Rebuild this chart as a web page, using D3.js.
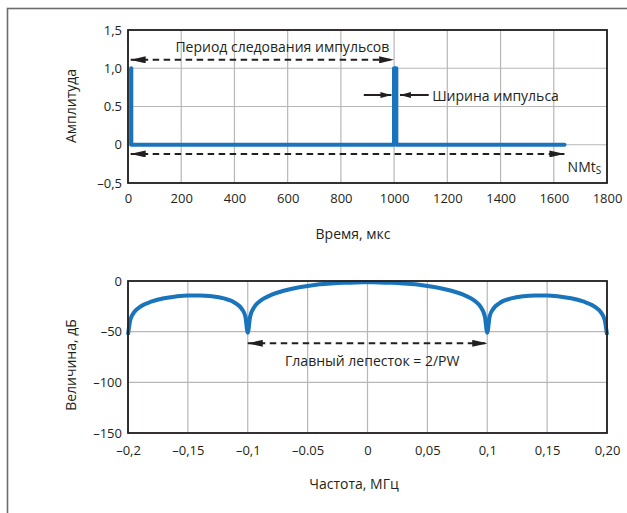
<!DOCTYPE html>
<html>
<head>
<meta charset="utf-8">
<script src="https://cdn.jsdelivr.net/npm/d3@7"></script>
<style>
  body { margin: 0; background: #fff; }
  text { font-family: "Open Sans", sans-serif; fill: #231f20; }
</style>
</head>
<body>
<svg id="chart" width="627" height="513"></svg>
<script>
// top panel: pulse train
const timeTicks = [0, 200, 400, 600, 800, 1000, 1200, 1400, 1600, 1800]
const timeTickLabels = ["0", "200", "400", "600", "800", "1000", "1200", "1400", "1600", "1800"]
const ampTicks = [-0.5, 0, 0.5, 1.0, 1.5]
const ampTickLabels = ["\u20130,5", "0", "0.5", "1,0", "1,5"]
const pulseTime = [12, 12, 1000, 1000, 1008, 1008, 1640]
const pulseAmp = [1, 0, 0, 1, 1, 0, 0]

// bottom panel: spectrum
const freqTicks = [-0.2, -0.15, -0.1, -0.05, 0, 0.05, 0.1, 0.15, 0.2]
const freqTickLabels = ["\u20130,2", "\u20130,15", "\u20130,1", "\u20130.05", "0", "0,05", "0,1", "0,15", "0,20"]
const dbTicks = [-150, -100, -50, 0]
const dbTickLabels = ["\u2013150", "\u2013100", "\u201350", "0"]
const specFreq = [-0.2, -0.198, -0.195, -0.19, -0.18, -0.17, -0.16, -0.15, -0.14, -0.13, -0.12, -0.11, -0.105, -0.102, -0.1,
  -0.098, -0.095, -0.09, -0.085, -0.08, -0.07, -0.06, -0.05, -0.04, -0.03, -0.02, -0.01, 0,
  0.01, 0.02, 0.03, 0.04, 0.05, 0.06, 0.07, 0.08, 0.085, 0.09, 0.095, 0.098,
  0.1, 0.102, 0.105, 0.11, 0.12, 0.13, 0.14, 0.15, 0.16, 0.17, 0.18, 0.19, 0.195, 0.198, 0.2]
const specDb = [-53, -38, -31, -25.5, -20.2, -17, -15.2, -14.2, -14.2, -15, -17.2, -22, -27.5, -35, -51,
  -35, -26.5, -20, -16.2, -13.5, -9.6, -6.9, -4.9, -3.3, -2.4, -1.8, -1.4, -1.3,
  -1.4, -1.8, -2.4, -3.3, -4.9, -6.9, -9.6, -13.5, -16.2, -20, -26.5, -35,
  -51, -35, -27.5, -22, -17.2, -15, -14.2, -14.2, -15.2, -17, -20.2, -25.5, -31, -38, -53]

const blue = "#1a74bb"
const gridColor = "#b7b7b7"
const ink = "#231f20"

const svg = d3.select("#chart")

const defs = svg.append("defs")
defs.append("marker")
  .attr("id", "head")
  .attr("viewBox", "0 0 15 7")
  .attr("refX", 15).attr("refY", 3.5)
  .attr("markerWidth", 15).attr("markerHeight", 7)
  .attr("markerUnits", "userSpaceOnUse")
  .attr("orient", "auto-start-reverse")
  .append("path").attr("d", "M0,0L15,3.5L0,7Z").attr("fill", ink)
defs.append("marker")
  .attr("id", "headSmall")
  .attr("viewBox", "0 0 11 6")
  .attr("refX", 11).attr("refY", 3)
  .attr("markerWidth", 11).attr("markerHeight", 6)
  .attr("markerUnits", "userSpaceOnUse")
  .attr("orient", "auto")
  .append("path").attr("d", "M0,0L11,3L0,6Z").attr("fill", ink)

// outer frame (cut off at right / bottom)
svg.append("rect")
  .attr("x", 7.5).attr("y", 8.5)
  .attr("width", 700).attr("height", 600)
  .attr("fill", "none")
  .attr("stroke", "#6d6d6d")
  .attr("stroke-width", 1.6)

function panel(x, y, xTicks, xLabels, yTicks, yLabels, xPad) {
  const g = svg.append("g")
  const [x0, x1] = x.range()
  const [y0, y1] = y.range()

  g.append("g").selectAll("line").data(xTicks).join("line")
    .attr("x1", d => x(d)).attr("x2", d => x(d))
    .attr("y1", y0).attr("y2", y1)
    .attr("stroke", gridColor).attr("stroke-width", 1.2)
  g.append("g").selectAll("line").data(yTicks).join("line")
    .attr("x1", x0).attr("x2", x1)
    .attr("y1", d => y(d)).attr("y2", d => y(d))
    .attr("stroke", gridColor).attr("stroke-width", 1.2)

  const xAxis = d3.axisBottom(x)
    .tickValues(xTicks)
    .tickFormat((d, i) => xLabels[i])
    .tickSize(0).tickPadding(xPad)
  g.append("g")
    .attr("transform", "translate(0," + y0 + ")")
    .call(xAxis)
    .call(a => a.select(".domain").remove())
    .selectAll("text").attr("font-size", 13).attr("font-family", null).attr("fill", ink)

  const yAxis = d3.axisLeft(y)
    .tickValues(yTicks)
    .tickFormat((d, i) => yLabels[i])
    .tickSize(0).tickPadding(6)
  g.append("g")
    .attr("transform", "translate(" + x0 + ",0)")
    .call(yAxis)
    .call(a => a.select(".domain").remove())
    .selectAll("text").attr("font-size", 13).attr("font-family", null).attr("fill", ink)

  g.selectAll(".tick").attr("font-family", null)
  return g
}

function frame(x, y) {
  const [x0, x1] = x.range()
  const [y0, y1] = y.range()
  svg.append("rect")
    .attr("x", x0).attr("y", y1)
    .attr("width", x1 - x0).attr("height", y0 - y1)
    .attr("fill", "none").attr("stroke", ink).attr("stroke-width", 1.8)
}

function title(txt, cx, cy, rotate) {
  svg.append("text")
    .attr("transform", "translate(" + cx + "," + cy + ")" + (rotate ? " rotate(-90)" : ""))
    .attr("text-anchor", "middle")
    .attr("dominant-baseline", "central")
    .attr("font-size", 14)
    .text(txt)
}

function dashArrow(x1, y1, x2, y2, both) {
  svg.append("line")
    .attr("x1", x1).attr("y1", y1).attr("x2", x2).attr("y2", y2)
    .attr("stroke", ink).attr("stroke-width", 2)
    .attr("stroke-dasharray", "6.5,4.5")
    .attr("marker-end", "url(#head)")
    .attr("marker-start", both ? "url(#head)" : null)
}

// ---------- top panel ----------
const xTime = d3.scaleLinear().domain([0, 1800]).range([128, 607])
const yAmp = d3.scaleLinear().domain([-0.5, 1.5]).range([183, 30])

panel(xTime, yAmp, timeTicks, timeTickLabels, ampTicks, ampTickLabels, 11)

const pulse = pulseTime.map((t, i) => [t, pulseAmp[i]])
svg.append("path")
  .datum(pulse)
  .attr("d", d3.line().x(d => xTime(d[0])).y(d => yAmp(d[1])))
  .attr("fill", "none")
  .attr("stroke", blue)
  .attr("stroke-width", 4.2)
  .attr("stroke-linejoin", "round")
  .attr("stroke-linecap", "round")

frame(xTime, yAmp)

dashArrow(xTime(10), yAmp(1.11), xTime(1000), yAmp(1.11), true)
svg.append("text")
  .attr("x", xTime(580)).attr("y", yAmp(1.28))
  .attr("text-anchor", "middle").attr("dominant-baseline", "central")
  .attr("font-size", 14)
  .text("Период следования импульсов")

dashArrow(xTime(10), yAmp(-0.12), xTime(1640), yAmp(-0.12), true)
const nm = svg.append("text")
  .attr("x", xTime(1652)).attr("y", yAmp(-0.28))
  .attr("dominant-baseline", "central")
  .attr("font-size", 14)
nm.append("tspan").text("NMt")
nm.append("tspan").attr("font-size", 10).attr("dy", 4).text("S")

// pulse width markers
svg.append("line")
  .attr("x1", xTime(886)).attr("x2", xTime(990))
  .attr("y1", yAmp(0.65)).attr("y2", yAmp(0.65))
  .attr("stroke", ink).attr("stroke-width", 2)
  .attr("marker-end", "url(#headSmall)")
svg.append("line")
  .attr("x1", xTime(1130)).attr("x2", xTime(1022))
  .attr("y1", yAmp(0.65)).attr("y2", yAmp(0.65))
  .attr("stroke", ink).attr("stroke-width", 2)
  .attr("marker-end", "url(#headSmall)")
svg.append("text")
  .attr("x", xTime(1143)).attr("y", yAmp(0.65))
  .attr("dominant-baseline", "central")
  .attr("font-size", 14)
  .text("Ширина импульса")

title("Амплитуда", 70, 106, true)
title("Время, мкс", 353, 233, false)

// ---------- bottom panel ----------
const xFreq = d3.scaleLinear().domain([-0.2, 0.2]).range([128, 607])
const yDb = d3.scaleLinear().domain([-150, 0]).range([433, 281])

panel(xFreq, yDb, freqTicks, freqTickLabels, dbTicks, dbTickLabels, 13)

const spectrum = specFreq.map((f, i) => [f, specDb[i]])
svg.append("path")
  .datum(spectrum)
  .attr("d", d3.line().curve(d3.curveMonotoneX).x(d => xFreq(d[0])).y(d => yDb(d[1])))
  .attr("fill", "none")
  .attr("stroke", blue)
  .attr("stroke-width", 4)
  .attr("stroke-linejoin", "round")

frame(xFreq, yDb)

dashArrow(xFreq(-0.1), yDb(-61.5), xFreq(0.1), yDb(-61.5), true)
svg.append("text")
  .attr("x", xFreq(0.004)).attr("y", yDb(-78))
  .attr("text-anchor", "middle").attr("dominant-baseline", "central")
  .attr("font-size", 14)
  .text("Главный лепесток = 2/PW")

title("Величина, дБ", 70, 365, true)
title("Частота, МГц", 354, 483, false)
</script>
</body>
</html>
